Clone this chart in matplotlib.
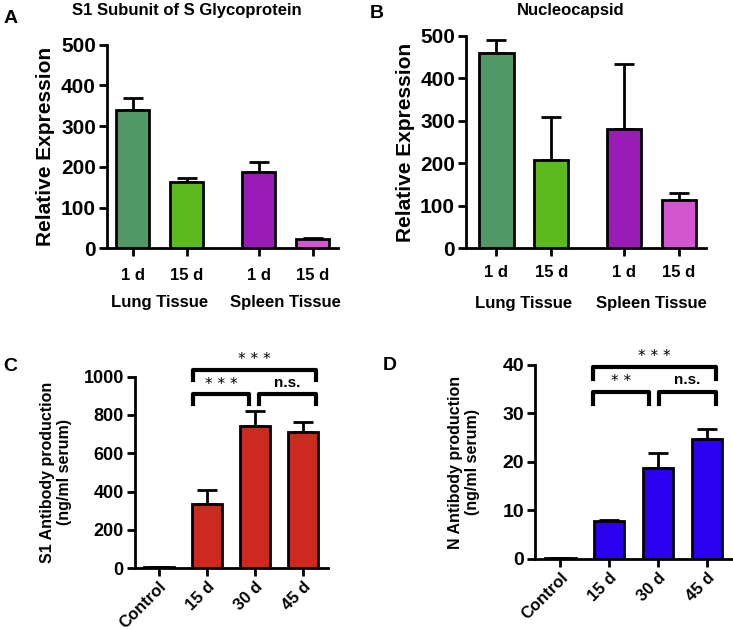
import matplotlib
matplotlib.use("Agg")
import matplotlib.pyplot as plt
import numpy as np

plt.rcParams['font.family'] = ['Liberation Sans', 'DejaVu Sans']
plt.rcParams['font.weight'] = 'bold'

# Data
tissue_ticks = ["1 d", "15 d", "1 d", "15 d"]
tissue_groups = ["Lung Tissue", "Spleen Tissue"]
tissue_colors = ["#529766", "#5dba1e", "#9b1bb9", "#d256d0"]

s1_expr = [340, 162, 188, 22]
s1_expr_err = [30, 10, 24, 3]
n_expr = [460, 208, 280, 113]
n_expr_err = [30, 100, 155, 17]

ab_ticks = ["Control", "15 d", "30 d", "45 d"]
s1_ab = [4, 335, 742, 712]
s1_ab_err = [3, 75, 78, 50]
n_ab = [0.2, 7.8, 18.7, 24.7]
n_ab_err = [0.05, 0.3, 3.1, 2.1]

tissue_pos = [0, 1, 2.33, 3.33]
ab_pos = [0, 1, 2, 3]

fig = plt.figure(figsize=(7.33, 6.3), dpi=100)

def style(ax):
    for s in ["top", "right"]:
        ax.spines[s].set_visible(False)
    for s in ["left", "bottom"]:
        ax.spines[s].set_linewidth(2)
    ax.tick_params(width=2, length=6, direction='out')

def bars(ax, pos, vals, errs, colors, width):
    ax.bar(pos, vals, width=width, color=colors, edgecolor='black', linewidth=2, zorder=3)
    ax.errorbar(pos, vals, yerr=[np.zeros(len(errs)), errs], fmt='none', ecolor='black',
                elinewidth=2, capsize=7, capthick=2, zorder=2)

# Panel A
axA = fig.add_axes([0.146, 0.606, 0.315, 0.323])
bars(axA, tissue_pos, s1_expr, s1_expr_err, tissue_colors, 0.61)
axA.set_ylim(0, 500)
axA.set_xlim(-0.48, 3.8)
axA.set_yticks([0, 100, 200, 300, 400, 500])
axA.set_xticks(tissue_pos)
axA.set_xticklabels(tissue_ticks, fontsize=12, fontweight='bold')
axA.tick_params(axis='y', labelsize=15, pad=2)
axA.tick_params(axis='x', pad=8)
axA.set_ylabel("Relative Expression", fontsize=15, fontweight='bold')
style(axA)
axA.text(0.5, -0.265, tissue_groups[0], transform=axA.get_xaxis_transform(), ha='center', va='center', fontsize=12, fontweight='bold')
axA.text(2.83, -0.265, tissue_groups[1], transform=axA.get_xaxis_transform(), ha='center', va='center', fontsize=12, fontweight='bold')
fig.text(0.255, 0.984, "S1 Subunit of S Glycoprotein", ha='center', va='center', fontsize=12, fontweight='bold')
fig.text(0.005, 0.971, "A", ha='left', va='center', fontsize=14, fontweight='bold')

# Panel B
axB = fig.add_axes([0.636, 0.606, 0.327, 0.337])
bars(axB, tissue_pos, n_expr, n_expr_err, tissue_colors, 0.63)
axB.set_ylim(0, 500)
axB.set_xlim(-0.55, 3.82)
axB.set_yticks([0, 100, 200, 300, 400, 500])
axB.set_xticks(tissue_pos)
axB.set_xticklabels(tissue_ticks, fontsize=12, fontweight='bold')
axB.tick_params(axis='y', labelsize=15, pad=2)
axB.tick_params(axis='x', pad=6)
axB.set_ylabel("Relative Expression", fontsize=15, fontweight='bold')
style(axB)
axB.text(0.5, -0.26, tissue_groups[0], transform=axB.get_xaxis_transform(), ha='center', va='center', fontsize=12, fontweight='bold')
axB.text(2.83, -0.26, tissue_groups[1], transform=axB.get_xaxis_transform(), ha='center', va='center', fontsize=12, fontweight='bold')
fig.text(0.778, 0.984, "Nucleocapsid", ha='center', va='center', fontsize=12, fontweight='bold')
fig.text(0.505, 0.978, "B", ha='left', va='center', fontsize=14, fontweight='bold')

def bracket(ax, x0, x1, y, h, text, ty, fs):
    ax.plot([x0, x0, x1, x1], [y - h, y, y, y - h], color='black', linewidth=3, clip_on=False,
            solid_joinstyle='round')
    kw = dict(ha='center', va='center', fontsize=fs, clip_on=False)
    if text.startswith('*'):
        ax.text((x0 + x1) / 2, ty, text, fontweight='normal', family='DejaVu Sans', **kw)
    else:
        ax.text((x0 + x1) / 2, ty, text, fontweight='bold', **kw)

# Panel C
axC = fig.add_axes([0.184, 0.0984, 0.263, 0.3036])
bars(axC, ab_pos, s1_ab, s1_ab_err, ["#cc2a1e"] * 4, 0.62)
axC.set_ylim(0, 1000)
axC.set_xlim(-0.5, 3.52)
axC.set_yticks([0, 200, 400, 600, 800, 1000])
axC.set_xticks(ab_pos)
axC.set_xticklabels(ab_ticks, fontsize=12, fontweight='bold', rotation=45, ha='right', rotation_mode='anchor')
axC.tick_params(axis='y', labelsize=13, pad=2)
axC.tick_params(axis='x', pad=2)
axC.set_ylabel("S1 Antibody production\n(ng/ml serum)", fontsize=11.5, fontweight='bold', labelpad=8)
style(axC)
bracket(axC, 0.71, 3.27, 1037, 52, "* * *", 1090, 11)
bracket(axC, 0.71, 1.88, 911, 53, "* * *", 960, 11)
bracket(axC, 2.08, 3.27, 911, 53, "n.s.", 965, 11)
fig.text(0.005, 0.419, "C", ha='left', va='center', fontsize=14, fontweight='bold')

# Panel D
axD = fig.add_axes([0.730, 0.1127, 0.27, 0.308])
bars(axD, ab_pos, n_ab, n_ab_err, ["#2b00f0"] * 4, 0.63)
axD.set_ylim(0, 40)
axD.set_xlim(-0.51, 3.53)
axD.set_yticks([0, 10, 20, 30, 40])
axD.set_xticks(ab_pos)
axD.set_xticklabels(ab_ticks, fontsize=12, fontweight='bold', rotation=45, ha='right', rotation_mode='anchor')
axD.tick_params(axis='y', labelsize=14, pad=2)
axD.tick_params(axis='x', pad=2)
axD.set_ylabel("N Antibody production\n(ng/ml serum)", fontsize=11.5, fontweight='bold', labelpad=16)
style(axD)
bracket(axD, 0.67, 3.18, 39.6, 2.5, "* * *", 41.8, 11)
bracket(axD, 0.67, 1.82, 34.4, 2.4, "* *", 36.6, 11)
bracket(axD, 2.02, 3.18, 34.4, 2.4, "n.s.", 36.8, 11)
fig.text(0.522, 0.42, "D", ha='left', va='center', fontsize=14, fontweight='bold')

fig.savefig("out.png", dpi=100)
